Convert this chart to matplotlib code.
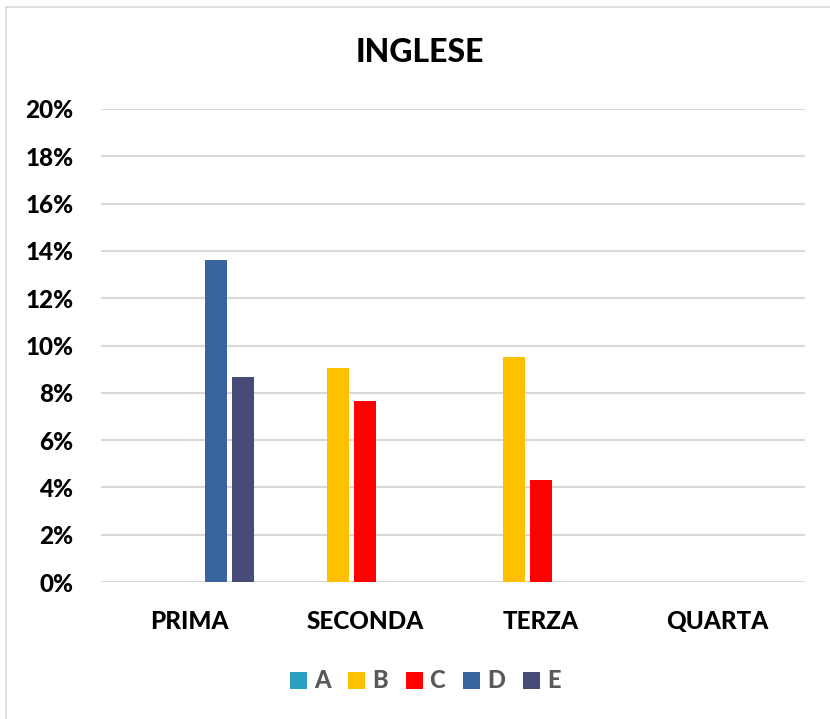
import matplotlib
matplotlib.use("Agg")
import matplotlib.pyplot as plt
from matplotlib.lines import Line2D
import numpy as np

categories = ["PRIMA", "SECONDA", "TERZA", "QUARTA"]
series = ["A", "B", "C", "D", "E"]
values = {
    "A": [0, 0, 0, 0],
    "B": [0, 9.06, 9.5, 0],
    "C": [0, 7.65, 4.31, 0],
    "D": [13.6, 0, 0, 0],
    "E": [8.67, 0, 0, 0],
}
colors = {"A": "#2AA0C0", "B": "#FFC000", "C": "#FF0000", "D": "#3A64A0", "E": "#464B78"}
yticks = [0, 2, 4, 6, 8, 10, 12, 14, 16, 18, 20]

plt.rcParams['font.family'] = ['Lato', 'DejaVu Sans']
WEIGHT = 'black'

W, H = 830, 719
fig = plt.figure(figsize=(W / 100, H / 100), dpi=100)
ax = fig.add_axes([101 / W, (H - 582) / H, (805 - 101) / W, (582 - 109) / H])

x = np.arange(len(categories))
step = 0.1534
bw = 0.125
for i, s in enumerate(series):
    ax.bar(x + (i - 2) * step, values[s], width=bw, color=colors[s], label=s, zorder=3)

ax.set_xlim(-0.5, len(categories) - 0.5)
ax.set_ylim(0, 20)
ax.set_yticks(yticks)
ax.set_yticklabels([f"{v}%" for v in yticks], fontsize=17.5, fontweight=WEIGHT, color='black')
ax.set_xticks(x)
ax.set_xticklabels(categories, fontsize=17.5, fontweight=WEIGHT, color='black')
ax.tick_params(axis='y', length=0, pad=20)
ax.tick_params(axis='x', length=0, pad=20)
ax.grid(axis='y', color='#D9D9D9', linewidth=1.5, zorder=0)
for sp in ax.spines.values():
    sp.set_visible(False)

fig.text(420 / W, 1 - 52 / H, "INGLESE", ha='center', va='center', fontsize=23, fontweight=WEIGHT, color='black')

leg = fig.legend(loc='center', bbox_to_anchor=(425 / W, 1 - 681 / H), ncol=5, frameon=False,
                 handlelength=0.72, handleheight=0.72, handletextpad=0.3, columnspacing=0.75,
                 prop={'weight': WEIGHT, 'size': 17})
for t in leg.get_texts():
    t.set_color('#595959')

fig.add_artist(Line2D([6 / W, 6 / W], [0, 1 - 7 / H], color='#D9D9D9', linewidth=1.2, transform=fig.transFigure))
fig.add_artist(Line2D([6 / W, 1], [1 - 7 / H, 1 - 7 / H], color='#D9D9D9', linewidth=1.2, transform=fig.transFigure))

fig.savefig("out.png", dpi=100)
